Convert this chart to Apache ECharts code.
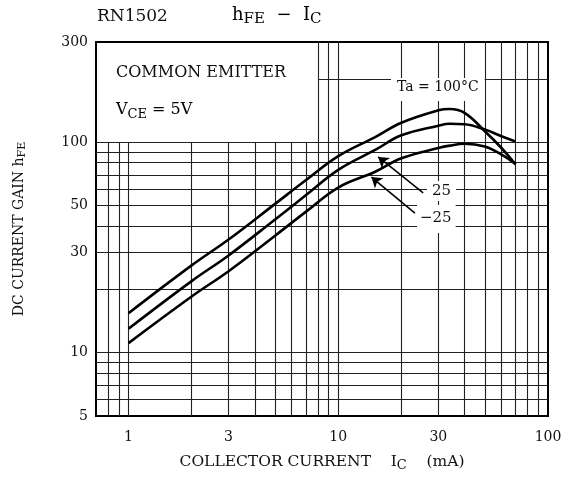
<!DOCTYPE html>
<html lang="en">
<head>
<meta charset="UTF-8">
<title>RN1502 hFE - IC</title>
<script src="https://cdn.jsdelivr.net/npm/echarts@6/dist/echarts.min.js"></script>
<style>html,body{margin:0;padding:0;background:#fff}</style>
</head>
<body>
<div id="main" style="width:571px;height:485px;"></div>
<script type="text/javascript">
// collector current (mA) and DC current gain for each ambient temperature
var current = [1, 2, 3, 5, 7, 10, 15, 20, 30, 34, 40, 50, 60, 70];
var gain100 = [15.4, 26, 34.5, 51, 66, 86, 106, 124, 142, 144, 138, 113, 94, 78.5];
var gain25 = [13.0, 21.9, 29, 43, 56, 74, 92, 108, 120, 122.5, 122, 115, 107, 101];
var gainM25 = [11.1, 18.5, 24.4, 36, 46.7, 61, 72.5, 84, 94, 96.5, 98.5, 95.5, 87.5, 79];

var xTicks = [1, 3, 10, 30, 100];
var yTicks = [5, 10, 30, 50, 100, 300];

// datasheet grid: some lines stop at hFE=100 (text box above)
var xGridLow = [0.8, 0.9, 1, 2, 3, 4, 5, 6, 7];
var xGridFull = [8, 9, 10, 20, 30, 40, 50, 60, 70, 80, 90];
var yGrid = [6, 7, 8, 9, 10, 20, 30, 40, 50, 60, 70, 80, 90, 100];
var yGridTop = [200];

// arrows from the temperature labels to the curves [tail, tip]
var arrow25 = [[25.4, 57.5], [15.5, 85.2]];
var arrowM25 = [[23.2, 46.1], [14.4, 68.4]];

var X_MIN = 0.7, X_MAX = 100, Y_MIN = 5, Y_MAX = 300;
var font = 'DejaVu Serif';

function zip(xs, ys) {
	return xs.map(function (x, i) { return [x, ys[i]]; });
}

var gridLines = [];
xGridLow.forEach(function (x) { gridLines.push({coords: [[x, Y_MIN], [x, 100]]}); });
xGridFull.forEach(function (x) { gridLines.push({coords: [[x, Y_MIN], [x, Y_MAX]]}); });
yGrid.forEach(function (y) { gridLines.push({coords: [[X_MIN, y], [X_MAX, y]]}); });
yGridTop.forEach(function (y) { gridLines.push({coords: [[8, y], [X_MAX, y]]}); });

function curve(name, data) {
	return {
		name: name,
		type: 'line',
		data: zip(current, data),
		smooth: 0.4,
		showSymbol: false,
		z: 5,
		lineStyle: {color: '#000', width: 2.6}
	};
}

var chart = echarts.init(document.getElementById('main'));
var option = {
	animation: false,
	grid: {
		left: 96, right: 23, top: 42, bottom: 69,
		show: true, borderColor: '#000', borderWidth: 2, backgroundColor: 'transparent'
	},
	xAxis: {
		type: 'log', logBase: 10, min: X_MIN, max: X_MAX,
		axisLine: {show: false}, axisTick: {show: false}, splitLine: {show: false},
		axisLabel: {customValues: xTicks, margin: 14, color: '#111', fontFamily: font, fontSize: 14},
		name: '{a|COLLECTOR CURRENT    I}{s|C}{a|    (mA)}',
		nameLocation: 'middle', nameGap: 35,
		nameTextStyle: {
			rich: {
				a: {fontFamily: font, fontSize: 15.5, color: '#111'},
				s: {fontFamily: font, fontSize: 13, color: '#111', padding: [8, 0, 0, 0]}
			}
		}
	},
	yAxis: {
		type: 'log', logBase: 10, min: Y_MIN, max: Y_MAX,
		axisLine: {show: false}, axisTick: {show: false}, splitLine: {show: false},
		axisLabel: {customValues: yTicks, margin: 8, color: '#111', fontFamily: font, fontSize: 14},
		name: '{a|DC CURRENT GAIN h}{s|FE}',
		nameLocation: 'middle', nameRotate: 90, nameGap: 68,
		nameTextStyle: {
			rich: {
				a: {fontFamily: font, fontSize: 14, color: '#111'},
				s: {fontFamily: font, fontSize: 11, color: '#111', padding: [7, 0, 0, 0]}
			}
		}
	},
	graphic: [
		{type: 'text', left: 97, top: 8, style: {text: 'RN1502', font: '17px "DejaVu Serif"', fill: '#111'}},
		{type: 'text', left: 232, top: 6, style: {
			text: '{a|h}{s|FE}{a|  −  I}{s|C}',
			rich: {
				a: {fontFamily: font, fontSize: 18, color: '#111'},
				s: {fontFamily: font, fontSize: 15, color: '#111', padding: [9, 0, 0, 0]}
			}
		}},
		{type: 'text', left: 116, top: 65, style: {text: 'COMMON EMITTER', font: '16px "DejaVu Serif"', fill: '#111'}},
		{type: 'text', left: 116, top: 102, style: {
			text: '{a|V}{s|CE}{a| = 5V}',
			rich: {
				a: {fontFamily: font, fontSize: 16, color: '#111'},
				s: {fontFamily: font, fontSize: 13, color: '#111', padding: [9, 0, 0, 0]}
			}
		}},
		{type: 'text', left: 391, top: 78, z: 10, style: {
			text: 'Ta = 100°C', font: '14px "DejaVu Serif"', fill: '#111',
			backgroundColor: '#fff', padding: [2, 6, 7, 6]
		}},
		{type: 'text', left: 427, top: 181, z: 10, style: {
			text: '25', font: '15px "DejaVu Serif"', fill: '#111',
			backgroundColor: '#fff', padding: [3, 5, 2, 5]
		}},
		{type: 'text', left: 417, top: 205, z: 10, style: {
			text: '−25', font: '15px "DejaVu Serif"', fill: '#111',
			backgroundColor: '#fff', padding: [6, 4, 7, 3]
		}}
	],
	series: [
		{
			type: 'lines', coordinateSystem: 'cartesian2d', silent: true, z: 1,
			lineStyle: {color: '#222', width: 1.1, opacity: 1},
			data: gridLines
		},
		{
			type: 'lines', coordinateSystem: 'cartesian2d', silent: true, z: 20,
			symbol: ['none', 'arrow'], symbolSize: [0, 10],
			lineStyle: {color: '#000', width: 1.6, opacity: 1},
			data: [{coords: arrow25}, {coords: arrowM25}]
		},
		curve('Ta=100°C', gain100),
		curve('25', gain25),
		curve('-25', gainM25)
	]
};
chart.setOption(option);
</script>
</body>
</html>
